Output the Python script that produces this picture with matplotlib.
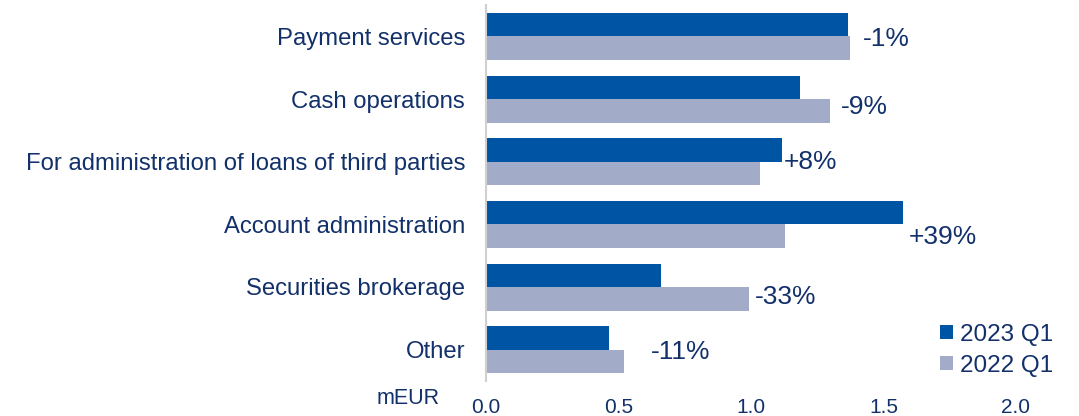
import matplotlib
matplotlib.use('Agg')
import matplotlib.pyplot as plt
import numpy as np

plt.rcParams['font.family'] = ['Liberation Sans', 'DejaVu Sans']

categories = ['Payment services', 'Cash operations',
              'For administration of loans of third parties',
              'Account administration', 'Securities brokerage', 'Other']
q1_2023 = [1.366, 1.185, 1.117, 1.574, 0.660, 0.464]
q1_2022 = [1.374, 1.298, 1.034, 1.128, 0.992, 0.521]
changes = ['-1%', '-9%', '+8%', '+39%', '-33%', '-11%']
xticks = [0.0, 0.5, 1.0, 1.5, 2.0]

dark = '#0054A4'
light = '#A2ACC9'
text_col = '#12306A'

fig = plt.figure(figsize=(10.79, 4.16), dpi=100)
ax = fig.add_axes([486 / 1079, 1 - 381 / 416, 530 / 1079, 376 / 416])

y = np.arange(len(categories))
h = 0.375
ax.barh(y - h / 2, q1_2023, height=h, color=dark, label='2023 Q1')
ax.barh(y + h / 2, q1_2022, height=h, color=light, label='2022 Q1')

# label nudges in points (hand placed in the original)
nudges = [(9, -2), (8, -6), (1, 0), (4, -9), (4, -7), (19, -2)]
for i, txt in enumerate(changes):
    ax.annotate(txt, (max(q1_2023[i], q1_2022[i]), y[i]),
                xytext=nudges[i], textcoords='offset points',
                ha='left', va='center', fontsize=19, color=text_col)

ax.set_ylim(len(categories) - 0.5, -0.5)
ax.set_xlim(0, 2.0)
ax.set_yticks(y)
ax.set_yticklabels(categories, fontsize=17.2, color=text_col)
ax.set_xticks(xticks)
ax.set_xticklabels([f'{v:.1f}' for v in xticks], fontsize=15, color=text_col)
ax.tick_params(length=0)
ax.tick_params(axis='x', pad=12)
ax.tick_params(axis='y', pad=15)
for s in ['top', 'right', 'bottom']:
    ax.spines[s].set_visible(False)
ax.spines['left'].set_color('#D0D0D0')
ax.spines['left'].set_linewidth(1.5)

leg = ax.legend(loc='lower right', bbox_to_anchor=(1.088, -0.014), frameon=False,
                fontsize=17.5, handlelength=0.5, handleheight=0.5,
                handletextpad=0.3, labelspacing=0.35, borderaxespad=0)
for t in leg.get_texts():
    t.set_color(text_col)

fig.text(408 / 1079, 1 - 399 / 416, 'mEUR', ha='center', va='center',
         fontsize=15.5, color=text_col)

plt.savefig('out.png', dpi=100)
